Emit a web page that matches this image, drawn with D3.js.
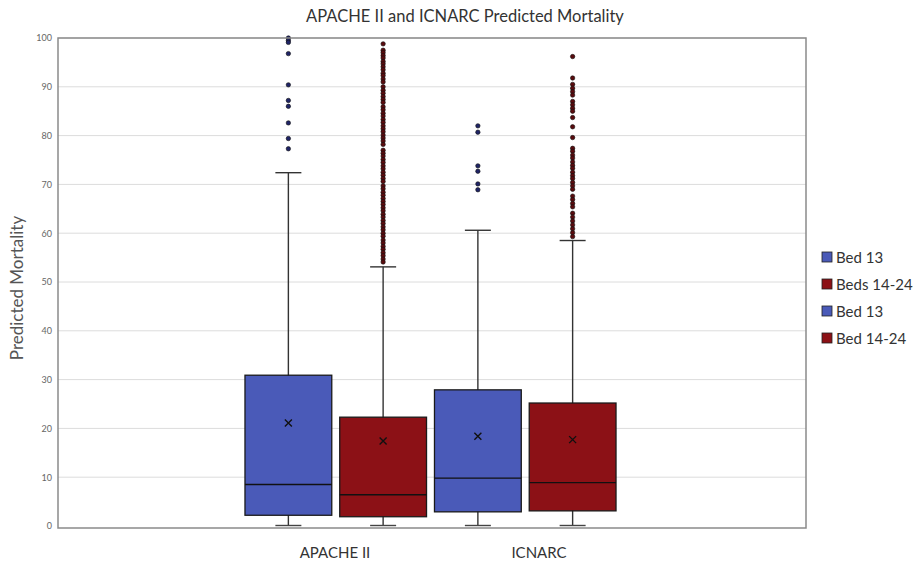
<!DOCTYPE html>
<html>
<head>
<meta charset="utf-8">
<script src="https://cdn.jsdelivr.net/npm/d3@7"></script>
<style>
  body { margin: 0; background: #fff; }
  svg text { font-family: Lato, "Open Sans", sans-serif; }
</style>
</head>
<body>
<svg id="chart" width="917" height="564"></svg>
<script>
// data
const categories = ["APACHE II", "ICNARC"]
const seriesNames = ["Bed 13", "Beds 14-24", "Bed 13", "Bed 14-24"]
const seriesCategory = ["APACHE II", "APACHE II", "ICNARC", "ICNARC"]
const seriesColors = ["#4a5ab8", "#8c1116", "#4a5ab8", "#8c1116"]
const dotColors = ["#1f2466", "#5a0b0e", "#1f2466", "#5a0b0e"]
const whiskerLow = [0, 0, 0, 0]
const q1 = [2.2, 1.9, 2.9, 3.1]
const median = [8.5, 6.4, 9.8, 8.9]
const q3 = [30.9, 22.3, 27.9, 25.2]
const whiskerHigh = [72.4, 53.1, 60.6, 58.5]
const means = [21.1, 17.4, 18.4, 17.7]
const outliers0 = [100, 99.5, 99.1, 96.8, 90.4, 87.2, 86.0, 82.6, 79.4, 77.3]
const outliers1 = [98.8, 97.5, 97.0, 96.4, 95.9, 95.2, 94.7, 94.1, 93.5, 92.8, 92.3, 91.6, 91.0,
  90.0, 89.3, 88.7, 88.0, 87.4, 86.8,
  85.9, 85.3, 84.6, 84.0, 83.3, 82.7, 82.0, 81.4, 80.8, 80.1, 79.5, 78.9, 78.2,
  77.0, 76.4, 75.8, 75.1, 74.5, 73.8, 73.2, 72.5, 71.9, 71.2, 70.6,
  69.7, 69.1, 68.4, 67.8, 67.1, 66.5, 65.9, 65.2, 64.6, 63.9, 63.3, 62.6, 62.0, 61.3, 60.7, 60.0, 59.4,
  58.6, 58.0, 57.3, 56.7, 56.0, 55.4, 54.7, 54.1]
const outliers2 = [82.0, 80.7, 73.8, 72.7, 70.1, 68.9]
const outliers3 = [96.2, 91.8, 90.5, 89.7, 89.0, 88.3, 87.0, 86.3, 85.6, 85.0, 83.7, 81.8, 79.6,
  77.4, 76.8, 76.0, 75.4, 74.6, 73.9, 73.3, 72.5, 71.8, 71.2, 70.4, 69.7, 69.0,
  67.6, 66.9, 66.1, 65.4,
  64.1, 63.3, 62.5, 61.7, 60.9, 60.1, 59.3]
const outliers = [outliers0, outliers1, outliers2, outliers3]
const yTicks = [0, 10, 20, 30, 40, 50, 60, 70, 80, 90, 100]

const plot = { left: 58, right: 806, top: 38, bottom: 526 }
const svg = d3.select("#chart")

const yScale = d3.scaleLinear().domain([0, 100]).range([plot.bottom, plot.top])
const xBox = d3.scaleBand().domain(d3.range(4)).range([241, 620]).paddingInner(0.084).paddingOuter(0.042)
const bw = xBox.bandwidth()
const cx = i => xBox(i) + bw / 2

// gridlines
svg.append("g").selectAll("line").data(yTicks.filter(d => d > 0)).join("line")
  .attr("x1", plot.left).attr("x2", plot.right)
  .attr("y1", d => yScale(d)).attr("y2", d => yScale(d))
  .attr("stroke", "#dcdcdc").attr("stroke-width", 1)

// y axis labels
const yAxis = svg.append("g").attr("transform", `translate(${plot.left},0)`)
  .call(d3.axisLeft(yScale).tickValues(yTicks).tickSize(0).tickPadding(6))
yAxis.select(".domain").remove()
yAxis.selectAll("text").attr("font-size", 9).attr("fill", "#666").style("font-family", "Lato, sans-serif")

// whiskers
const boxes = svg.append("g")
const idx = d3.range(4)
boxes.selectAll(".whisker").data(idx).join("line").attr("class", "whisker")
  .attr("x1", cx).attr("x2", cx)
  .attr("y1", i => yScale(whiskerHigh[i])).attr("y2", i => yScale(whiskerLow[i]))
  .attr("stroke", "#333").attr("stroke-width", 1.4)
boxes.selectAll(".capTop").data(idx).join("line").attr("class", "capTop")
  .attr("x1", i => cx(i) - 13).attr("x2", i => cx(i) + 13)
  .attr("y1", i => yScale(whiskerHigh[i])).attr("y2", i => yScale(whiskerHigh[i]))
  .attr("stroke", "#333").attr("stroke-width", 1.4)
boxes.selectAll(".capLow").data(idx).join("line").attr("class", "capLow")
  .attr("x1", i => cx(i) - 13).attr("x2", i => cx(i) + 13)
  .attr("y1", i => yScale(whiskerLow[i]) - 0.5).attr("y2", i => yScale(whiskerLow[i]) - 0.5)
  .attr("stroke", "#444").attr("stroke-width", 1.4)

// boxes
boxes.selectAll(".box").data(idx).join("rect").attr("class", "box")
  .attr("x", i => xBox(i)).attr("width", bw)
  .attr("y", i => yScale(q3[i])).attr("height", i => yScale(q1[i]) - yScale(q3[i]))
  .attr("fill", i => seriesColors[i]).attr("stroke", "#1a1a1a").attr("stroke-width", 1.3)
boxes.selectAll(".median").data(idx).join("line").attr("class", "median")
  .attr("x1", i => xBox(i)).attr("x2", i => xBox(i) + bw)
  .attr("y1", i => yScale(median[i])).attr("y2", i => yScale(median[i]))
  .attr("stroke", "#111").attr("stroke-width", 1.3)

// mean markers
const meanG = boxes.selectAll(".mean").data(idx).join("g").attr("class", "mean")
  .attr("transform", i => `translate(${cx(i)},${yScale(means[i])})`)
meanG.append("path").attr("d", "M-3.5,-3.5L3.5,3.5M-3.5,3.5L3.5,-3.5")
  .attr("stroke", "#111").attr("stroke-width", 1.4)

// outliers
idx.forEach(i => {
  boxes.append("g").selectAll("circle").data(outliers[i]).join("circle")
    .attr("cx", cx(i)).attr("cy", d => yScale(d)).attr("r", 2.2)
    .attr("fill", dotColors[i]).attr("stroke", "#111").attr("stroke-width", 0.6)
})

// frame
svg.append("rect").attr("x", plot.left).attr("y", plot.top)
  .attr("width", plot.right - plot.left).attr("height", plot.bottom - plot.top + 2)
  .attr("fill", "none").attr("stroke", "#8a8a8a").attr("stroke-width", 1.5)

// category labels
const xCat = d3.scaleOrdinal().domain(categories).range([335, 539])
svg.append("g").selectAll("text").data(categories).join("text")
  .attr("x", d => xCat(d)).attr("y", 558).attr("text-anchor", "middle")
  .attr("font-size", 15).attr("fill", "#333").text(d => d)

// title
svg.append("text").attr("x", 465).attr("y", 22).attr("text-anchor", "middle")
  .attr("font-size", 16.5).attr("fill", "#333").text("APACHE II and ICNARC Predicted Mortality")

// y label
svg.append("text").attr("transform", "translate(23,288) rotate(-90)").attr("text-anchor", "middle")
  .attr("font-size", 17).attr("fill", "#555").text("Predicted Mortality")

// legend
const legend = svg.append("g").selectAll("g").data(seriesNames).join("g")
  .attr("transform", (d, i) => `translate(822,${257 + i * 27})`)
legend.append("rect").attr("x", 0).attr("y", -5).attr("width", 10).attr("height", 10)
  .attr("fill", (d, i) => seriesColors[i]).attr("stroke", "#222").attr("stroke-width", 0.8)
legend.append("text").attr("x", 14).attr("y", 5.5).attr("font-size", 15).attr("fill", "#333").text(d => d)
</script>
</body>
</html>
